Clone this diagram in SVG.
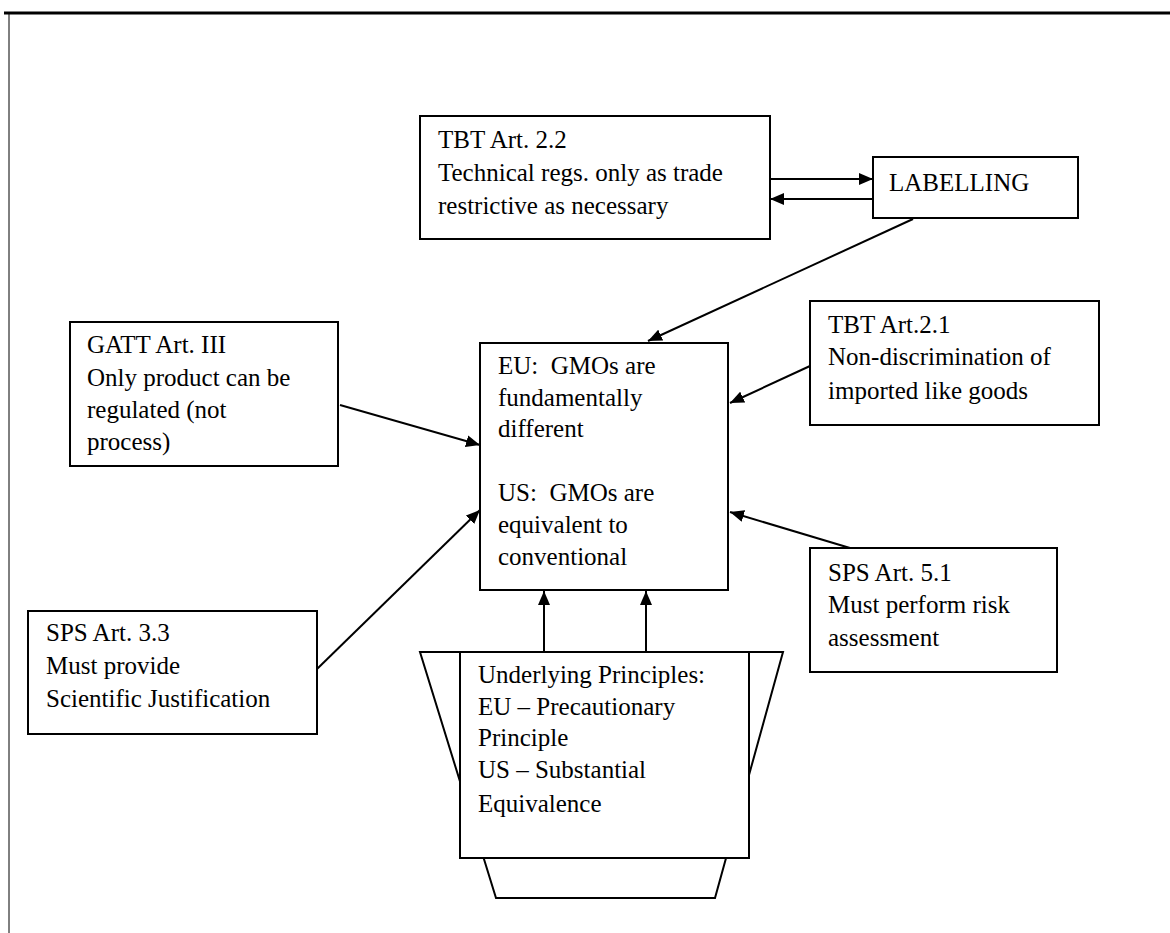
<svg xmlns="http://www.w3.org/2000/svg" width="1170" height="933" viewBox="0 0 1170 933" font-family="Liberation Serif, Times New Roman, serif" font-size="25">
<defs>
<marker id="ah" viewBox="0 0 14 12" refX="14" refY="6" markerWidth="14" markerHeight="12" markerUnits="userSpaceOnUse" orient="auto">
<path d="M0,0 L14,6 L0,12 Z" fill="#000"/>
</marker>
<style>
.box{fill:#fff;stroke:#000;stroke-width:2}
.c{stroke:#000;stroke-width:2;fill:none;marker-end:url(#ah)}
</style>
</defs>
<rect width="1170" height="933" fill="#fff"/>
<g id="frame">
<line x1="4" y1="13" x2="1170" y2="13" stroke="#000" stroke-width="3"/>
<line x1="9" y1="13" x2="9" y2="933" stroke="#000" stroke-width="1"/>
</g>
<g id="tbt22">
<rect class="box" x="420" y="116" width="350" height="123"/>
<text x="438" y="148">TBT Art. 2.2</text>
<text x="438" y="181">Technical regs. only as trade</text>
<text x="438" y="214">restrictive as necessary</text>
</g>
<g id="labelling">
<rect class="box" x="873" y="157" width="205" height="61"/>
<text x="889" y="191">LABELLING</text>
</g>
<g id="gatt">
<rect class="box" x="70" y="322" width="268" height="144"/>
<text x="87" y="353">GATT Art. III</text>
<text x="87" y="386">Only product can be</text>
<text x="87" y="418">regulated (not</text>
<text x="87" y="450">process)</text>
</g>
<g id="center">
<rect class="box" x="480" y="343" width="248" height="247"/>
<text x="498" y="374" xml:space="preserve">EU:  GMOs are</text>
<text x="498" y="406">fundamentally</text>
<text x="498" y="437">different</text>
<text x="498" y="501" xml:space="preserve">US:  GMOs are</text>
<text x="498" y="533">equivalent to</text>
<text x="498" y="565">conventional</text>
</g>
<g id="tbt21">
<rect class="box" x="810" y="301" width="289" height="124"/>
<text x="828" y="333">TBT Art.2.1</text>
<text x="828" y="365">Non-discrimination of</text>
<text x="828" y="399">imported like goods</text>
</g>
<g id="sps51">
<rect class="box" x="810" y="548" width="247" height="124"/>
<text x="828" y="581">SPS Art. 5.1</text>
<text x="828" y="613">Must perform risk</text>
<text x="828" y="646">assessment</text>
</g>
<g id="sps33">
<rect class="box" x="28" y="611" width="289" height="123"/>
<text x="46" y="641">SPS Art. 3.3</text>
<text x="46" y="674">Must provide</text>
<text x="46" y="707">Scientific Justification</text>
</g>
<g id="principles">
<polygon class="box" points="420,652 783,652 715,898 496,898"/>
<rect class="box" x="460" y="652" width="289" height="206"/>
<text x="478" y="683">Underlying Principles:</text>
<text x="478" y="715">EU – Precautionary</text>
<text x="478" y="746">Principle</text>
<text x="478" y="778">US – Substantial</text>
<text x="478" y="812">Equivalence</text>
</g>
<g id="connectors">
<line class="c" x1="770" y1="179" x2="873" y2="179"/>
<line class="c" x1="873" y1="199" x2="770" y2="199"/>
<line class="c" x1="913" y1="219" x2="648" y2="341"/>
<line class="c" x1="340" y1="405" x2="480" y2="445"/>
<line class="c" x1="810" y1="366" x2="730" y2="403"/>
<line class="c" x1="850" y1="548" x2="730" y2="512"/>
<line class="c" x1="317" y1="669" x2="480" y2="510"/>
<line class="c" x1="544" y1="652" x2="544" y2="591"/>
<line class="c" x1="646" y1="652" x2="646" y2="591"/>
</g>
</svg>
